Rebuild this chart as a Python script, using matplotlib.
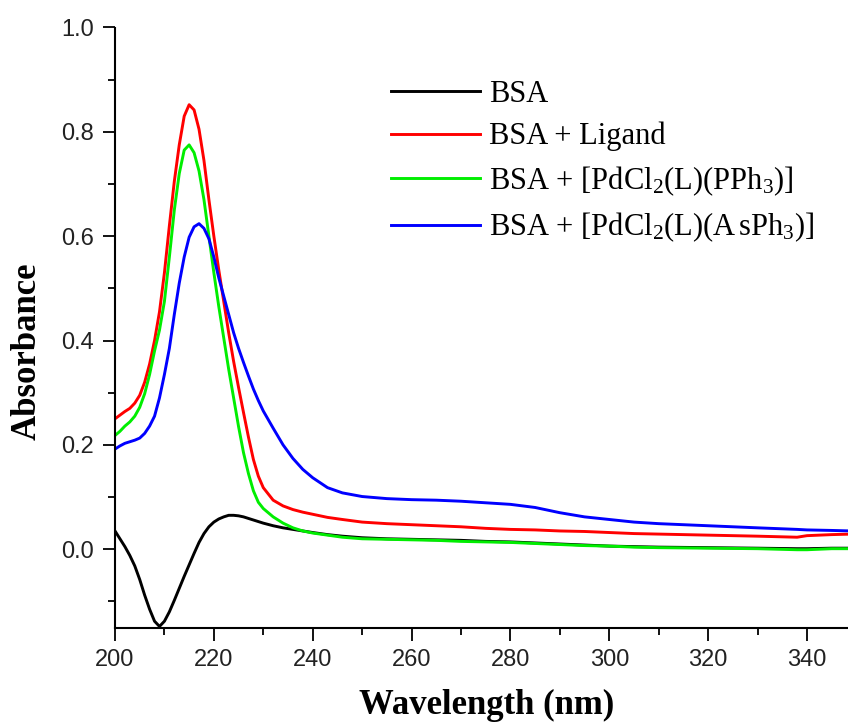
import matplotlib
matplotlib.use("Agg")
import matplotlib.pyplot as plt
from matplotlib.ticker import MultipleLocator

plt.rcParams['mathtext.fontset'] = 'custom'
plt.rcParams['mathtext.rm'] = 'Liberation Serif'
plt.rcParams['mathtext.it'] = 'Liberation Serif:italic'

# wavelength grid (nm)
wl = [200, 201, 202, 203, 204, 205, 206, 207, 208, 209,
      210, 211, 212, 213, 214, 215, 216, 217, 218, 219,
      220, 221, 222, 223, 224, 225, 226, 227, 228, 229,
      230, 232, 234, 236, 238, 240, 243, 246, 250, 255,
      260, 265, 270, 275, 280, 285, 290, 295, 300, 305,
      310, 320, 330, 338, 340, 345, 349]

bsa = [0.035, 0.020, 0.005, -0.012, -0.032, -0.058, -0.088, -0.115, -0.138, -0.148,
       -0.138, -0.120, -0.098, -0.075, -0.052, -0.030, -0.008, 0.013, 0.030, 0.043,
       0.052, 0.058, 0.062, 0.065, 0.065, 0.064, 0.062, 0.059, 0.056, 0.053,
       0.050, 0.045, 0.041, 0.038, 0.035, 0.032, 0.028, 0.025, 0.022, 0.020,
       0.019, 0.018, 0.017, 0.015, 0.014, 0.012, 0.010, 0.008, 0.006, 0.005,
       0.004, 0.003, 0.002, 0.001, 0.001, 0.002, 0.002]

ligand = [0.250, 0.257, 0.264, 0.270, 0.280, 0.295, 0.320, 0.355, 0.400, 0.455,
          0.530, 0.620, 0.705, 0.775, 0.830, 0.852, 0.842, 0.805, 0.745, 0.670,
          0.600, 0.535, 0.475, 0.415, 0.360, 0.310, 0.262, 0.215, 0.172, 0.140,
          0.118, 0.094, 0.083, 0.076, 0.071, 0.067, 0.061, 0.057, 0.052, 0.049,
          0.047, 0.045, 0.043, 0.040, 0.038, 0.037, 0.035, 0.034, 0.032, 0.030,
          0.029, 0.027, 0.025, 0.023, 0.026, 0.028, 0.029]

pph3 = [0.218, 0.226, 0.236, 0.244, 0.255, 0.272, 0.298, 0.335, 0.380, 0.420,
        0.475, 0.560, 0.650, 0.720, 0.765, 0.775, 0.760, 0.725, 0.670, 0.600,
        0.530, 0.465, 0.405, 0.345, 0.290, 0.235, 0.185, 0.145, 0.112, 0.090,
        0.078, 0.062, 0.050, 0.041, 0.035, 0.031, 0.027, 0.023, 0.020, 0.019,
        0.018, 0.017, 0.015, 0.014, 0.013, 0.011, 0.009, 0.007, 0.006, 0.004,
        0.003, 0.002, 0.001, -0.001, -0.001, 0.001, 0.001]

asph3 = [0.192, 0.198, 0.203, 0.206, 0.209, 0.213, 0.222, 0.236, 0.255, 0.290,
         0.335, 0.385, 0.450, 0.510, 0.560, 0.598, 0.618, 0.624, 0.615, 0.595,
         0.560, 0.520, 0.485, 0.450, 0.415, 0.385, 0.358, 0.332, 0.307, 0.285,
         0.265, 0.232, 0.200, 0.174, 0.153, 0.137, 0.118, 0.108, 0.101, 0.097,
         0.095, 0.094, 0.092, 0.089, 0.086, 0.080, 0.070, 0.062, 0.057, 0.052,
         0.049, 0.045, 0.041, 0.038, 0.037, 0.036, 0.035]

labels = ['BSA', 'BSA + Ligand',
          r'BSA + [PdCl$_2$(L)(PPh$_3$)]',
          r'BSA + [PdCl$_2$(L)(A$\,$sPh$_3$)]']
series = [bsa, ligand, pph3, asph3]
colors = ['black', '#ff0000', '#00ee00', '#0000ff']

fig = plt.figure(figsize=(8.48, 7.26), dpi=100)
ax = fig.add_axes([115 / 848, 98 / 726, 733 / 848, 600.5 / 726])

for y, c, lab in zip(series, colors, labels):
    ax.plot(wl, y, color=c, lw=2.1, label=lab)

ax.set_xlim(200, 348.3)
ax.set_ylim(-0.151, 1.0)
ax.xaxis.set_major_locator(MultipleLocator(20))
ax.xaxis.set_minor_locator(MultipleLocator(10))
ax.yaxis.set_major_locator(MultipleLocator(0.2))
ax.yaxis.set_minor_locator(MultipleLocator(0.1))
ax.yaxis.set_major_formatter(plt.FormatStrFormatter('%.1f'))

ax.spines['top'].set_visible(False)
ax.spines['right'].set_visible(False)
for s in ['left', 'bottom']:
    ax.spines[s].set_linewidth(1.5)
ax.tick_params(which='major', direction='out', length=9, width=1.3, pad=6,
               labelsize=17, colors='black')
ax.tick_params(which='minor', direction='out', length=5, width=1.3)
for t in ax.get_xticklabels() + ax.get_yticklabels():
    t.set_family('Liberation Sans')
    t.set_color('#222222')

ax.set_xlabel('Wavelength (nm)', family='Liberation Serif', fontweight='bold',
              fontsize=25)
ax.set_ylabel('Absorbance', family='Liberation Serif', fontweight='bold',
              fontsize=25)
ax.xaxis.set_label_coords((487 - 115) / 733, -0.102)
ax.yaxis.set_label_coords(-0.097, 0.461)

leg = ax.legend(loc='upper left', bbox_to_anchor=(391 / 848, 1 - 80 / 726),
                bbox_transform=fig.transFigure, frameon=False,
                prop={'family': 'Liberation Serif', 'size': 22},
                handlelength=2.9, handletextpad=0.3, labelspacing=0.42,
                borderpad=0, borderaxespad=0)

fig.savefig('out.png', dpi=100)
